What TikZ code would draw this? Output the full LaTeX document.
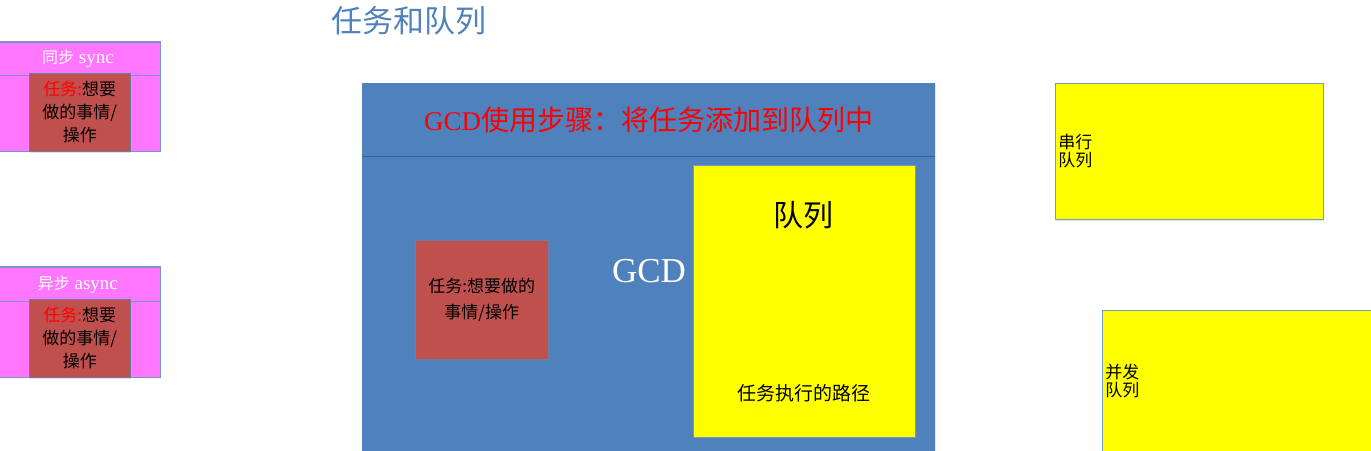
\documentclass[tikz,border=0pt]{standalone}
\usepackage{fontspec}
\setmainfont{Liberation Serif}
\newfontfamily\cjk{Noto Sans CJK SC}
\usetikzlibrary{shadows}

\definecolor{syncpink}{RGB}{255,119,255}
\definecolor{edgeblue}{RGB}{120,150,205}
\definecolor{taskred}{RGB}{192,80,77}
\definecolor{taskedge}{RGB}{110,125,160}
\definecolor{gcdblue}{RGB}{79,129,189}
\definecolor{queueyellow}{RGB}{255,255,0}
\definecolor{stepred}{RGB}{255,0,0}

\tikzset{
  pinkpanel/.style={draw=edgeblue, fill=syncpink, line width=0.8pt, inner sep=0pt, anchor=north west},
  pinkhead/.style={pinkpanel, text=white, font=\fontsize{19}{20}\selectfont},
  taskbox/.style={draw=taskedge, fill=taskred, line width=0.6pt, inner sep=1pt, anchor=north west, align=center,
    drop shadow={opacity=0.25, shadow xshift=1pt, shadow yshift=-1.2pt}},
  queuebox/.style={draw=edgeblue, fill=queueyellow, line width=0.8pt, anchor=north west, align=left,
    inner xsep=3pt, inner ysep=0pt, font={\cjk\fontsize{17}{18}\selectfont},
    drop shadow={opacity=0.2, shadow xshift=1pt, shadow yshift=-1.2pt}},
}

\begin{document}
\begin{tikzpicture}[x=1pt,y=-1pt]
\useasboundingbox (0,0) rectangle (1371,450);
\clip (0,0) rectangle (1371,450);

% title
\node[text=gcdblue, font={\cjk\fontsize{31}{31}\selectfont}] (title) at (409,21) {任务和队列};

% sync / async
\node[pinkpanel, minimum width=165pt, minimum height=110pt] (syncpanel) at (-5,41) {};
\node[pinkhead, minimum width=165pt, minimum height=33pt] (synchead) at (-5,42) {{\cjk\fontsize{16}{20}\selectfont 同步} sync};
\node[taskbox, minimum width=101pt, minimum height=78pt, font={\cjk\fontsize{17}{23}\selectfont}] (synctask) at (29,73)
  {\textcolor{stepred}{任务:}想要\\做的事情/\\操作};

\node[pinkpanel, minimum width=165pt, minimum height=111pt] (asyncpanel) at (-5,266) {};
\node[pinkhead, minimum width=165pt, minimum height=34pt] (asynchead) at (-5,267) {{\cjk\fontsize{16}{20}\selectfont 异步} async};
\node[taskbox, minimum width=101pt, minimum height=78pt, font={\cjk\fontsize{17}{23}\selectfont}] (asynctask) at (29,299)
  {\textcolor{stepred}{任务:}想要\\做的事情/\\操作};

% GCD
\node[fill=gcdblue, inner sep=0pt, anchor=north west, minimum width=573pt, minimum height=380pt,
  drop shadow={opacity=0.2, shadow xshift=1pt, shadow yshift=-1.2pt}] (gcd) at (362,83) {};
\node[fill=gcdblue, inner sep=0pt, anchor=north west, minimum width=573pt, minimum height=73pt,
  text=stepred, font=\fontsize{27}{30}\selectfont] (gcdhead) at (362,83)
  {GCD{\cjk\fontsize{28}{30}\selectfont 使用步骤：将任务添加到队列中}};
\draw[gcdblue!75!black, line width=1.2pt] (gcdhead.south west) -- (gcdhead.south east);
\node[taskbox, minimum width=133pt, minimum height=119pt, font={\cjk\fontsize{17}{26}\selectfont}] (gcdtask) at (415,240)
  {任务:想要做的\\事情/操作};
\node[text=white, font=\fontsize{35}{35}\selectfont] (gcdlabel) at (649,271) {GCD};
\node[queuebox, minimum width=222pt, minimum height=272pt] (queue) at (693,165) {};
\node[font={\cjk\fontsize{30}{30}\selectfont}] (queuename) at (803,215) {队列};
\node[font={\cjk\fontsize{19}{20}\selectfont}] (queuepath) at (804,393) {任务执行的路径};

% queue kinds
\node[queuebox, text width=262pt, minimum height=136pt] (serial) at (1055,83) {串行\\队列};
\node[queuebox, text width=274pt, minimum height=142pt] (concurrent) at (1102,310) {并发\\队列};
\end{tikzpicture}
\end{document}
